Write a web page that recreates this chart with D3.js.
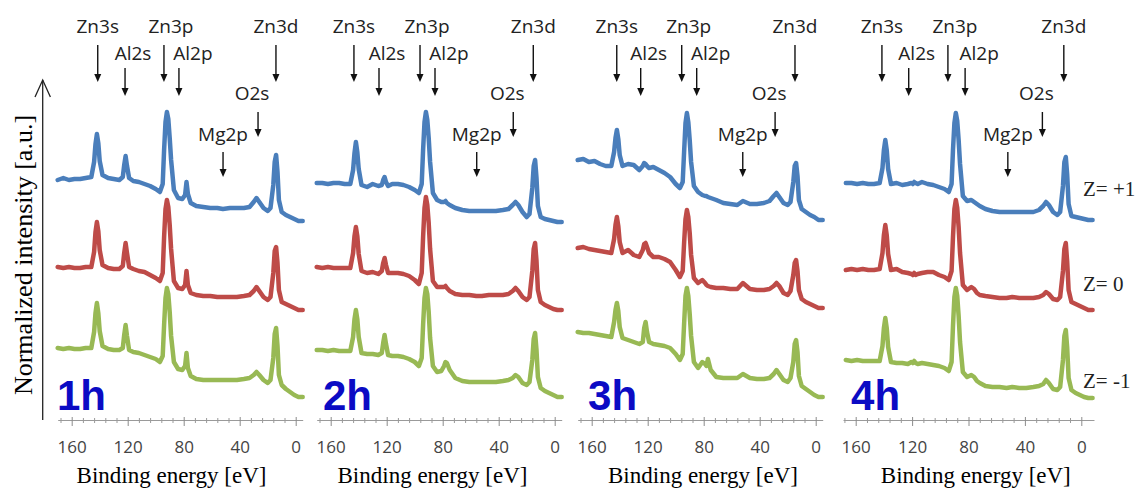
<!DOCTYPE html>
<html>
<head>
<meta charset="utf-8">
<script src="https://cdnjs.cloudflare.com/ajax/libs/d3/7.8.5/d3.min.js"></script>
<style>
  body { margin: 0; background: #fff; }
  svg { display: block; }
</style>
</head>
<body>
<svg id="chart" width="1142" height="494"></svg>
<script>
// Panels (deposition time) and stacked series (position Z)
var panels = ["1h", "2h", "3h", "4h"];
var zLabels = ["Z= +1", "Z= 0", "Z= -1"];
var majorTicks = [160, 120, 80, 40, 0];

// Binding energy grid [eV] (panel 4 sits ~3 eV lower)
var energy = [170, 166, 162, 158, 154, 150, 146, 144, 143, 142, 141, 140, 138, 134, 130, 126,
  123.5, 122.5, 121.5, 120.5, 119, 116, 112, 108, 104, 100, 97, 95, 94, 93, 92, 91, 90, 89,
  87, 84, 81, 79, 78, 77, 75, 71, 66, 61, 56, 52, 47, 42, 37, 33, 30, 28, 26, 23, 20, 18,
  16, 15, 14, 13, 12, 10, 7, 4, 1, -2, -5];
var energy4h = [167, 163, 159, 155, 151, 147, 143, 141, 140, 139, 138, 137, 135, 131, 127, 123,
  120.5, 119.5, 118.5, 117.5, 116, 113, 109, 105, 101, 97, 94, 92, 91, 90, 89, 88, 87, 86,
  84, 81, 78, 76, 75, 74, 72, 68, 63, 58, 53, 49, 44, 39, 34, 30, 27, 25, 23, 20, 17, 15,
  13, 12, 11, 10, 9, 7, 4, 1, -2, -5, -8];

// Normalized intensity [a.u.], Z=+1 / Z=0 / Z=-1 for each panel
var zPlus1_1h = [70,72,70,71,71,72,73, 88,106,116,107,89, 75,72,71,70, 73,85,94,84, 72,69,68,66,64,61,58,
  66,100,128,138,131,112,90, 60,52,51,55,68,56,47, 44,43,42,42,41,42,42,42,43, 48,52,48,42,39,42,
  65,88,95,78,50, 38,35,33,31,29,29];
var zZero_1h = [68,67,68,67,67,68,68, 83,103,113,104,85, 70,67,66,66, 69,82,92,82, 68,66,64,63,60,57,54,
  62,98,126,135,128,110,86, 54,47,46,50,64,50,42, 40,39,39,38,38,38,38,39,40, 44,48,44,38,35,38,
  62,84,88,72,45, 33,31,29,27,25,25];
var zMinus1_1h = [72,71,72,71,71,72,72, 88,107,117,107,89, 74,71,70,70, 72,85,95,84, 70,68,67,65,63,61,58,
  64,95,122,132,126,108,84, 58,51,50,54,67,52,44, 41,40,40,40,40,40,40,41,42, 45,48,45,40,37,40,
  62,86,92,74,45, 35,31,28,25,23,23];

var zPlus1_2h = [67,67,66,67,67,66,66, 80,97,108,98,81, 65,63,66,64, 65,70,73,68, 64,66,66,65,63,60,57,
  66,100,128,138,130,112,88, 57,50,48,48,49,47,45, 42,40,39,39,39,39,39,40,41, 45,48,45,38,33,36,
  62,84,90,72,44, 33,31,30,29,28,28];
var zZero_2h = [68,67,68,67,67,67,67, 82,99,108,99,81, 64,62,63,61, 64,72,77,70, 62,62,62,61,59,55,51,
  62,98,127,138,130,112,86, 54,48,48,48,49,47,44, 41,40,40,39,39,40,40,40,41, 44,47,44,38,35,38,
  64,86,92,74,45, 33,30,28,26,25,25];
var zMinus1_2h = [70,70,69,70,69,69,69, 83,101,110,101,83, 67,66,66,65, 67,77,85,76, 65,64,64,63,61,58,54,
  62,95,122,132,126,108,82, 54,48,49,54,58,57,50, 42,39,38,38,38,38,38,39,40, 42,45,43,37,35,38,
  60,81,87,70,43, 32,29,27,25,23,23];

var zPlus1_3h = [90,91,88,89,86,84,84, 98,112,120,111,95, 84,86,85,80, 84,87,86,84, 82,83,80,77,73,66,62,
  68,98,127,137,128,110,88, 64,58,55,54,54,53,52, 50,47,46,45,49,46,46,47,49, 54,57,53,47,45,48,
  68,84,87,74,50, 41,38,35,33,30,30];
var zZero_3h = [87,88,86,85,84,83,82, 96,110,118,109,93, 82,85,80,78, 85,91,92,88, 82,78,78,76,73,65,58,
  64,92,116,125,118,102,80, 57,52,55,52,50,49,48, 47,47,46,46,52,46,45,45,46, 49,52,49,42,40,44,
  60,72,75,64,45, 36,33,31,29,27,27];
var zMinus1_3h = [88,87,87,86,85,84,83, 98,110,117,109,93, 82,80,78,76, 78,92,98,88, 78,76,75,74,72,66,60,
  66,96,124,132,124,106,84, 58,52,58,56,54,61,50, 43,42,42,42,46,42,41,41,42, 46,50,46,40,38,42,
  58,76,80,68,44, 34,31,28,25,23,23];

var zPlus1_4h = [67,67,66,67,66,66,67, 82,100,110,100,81, 66,67,65,66, 67,66,68,67, 66,68,66,65,63,61,58,
  66,100,127,137,129,110,86, 54,49,50,48,47,46,44, 41,39,38,38,38,38,38,38,40, 44,48,45,38,35,38,
  64,88,93,75,46, 34,33,32,31,30,30];
var zZero_4h = [65,66,65,66,65,65,66, 82,100,110,100,81, 65,66,63,62, 61,60,62,60, 61,62,63,63,60,58,55,
  64,98,126,135,127,108,82, 50,45,48,46,44,42,40, 39,38,37,37,38,37,37,37,38, 40,43,41,36,35,38,
  64,86,92,73,45, 33,31,29,27,25,25];
var zMinus1_4h = [60,59,60,59,59,59,59, 74,92,102,92,73, 58,57,57,56, 58,57,59,57, 56,57,56,55,54,52,49,
  58,94,123,132,124,104,78, 48,43,45,43,41,39,37, 34,33,33,32,33,32,32,33,34, 36,40,37,31,30,33,
  60,84,90,72,42, 30,27,25,23,22,22];

// Peak markers and where their arrows point, per panel [eV]
var peakNames = ["Zn3s", "Al2s", "Zn3p", "Al2p", "O2s", "Mg2p", "Zn3d"];
var peakArrowEV = [
  [141.4, 121.9, 94.1, 83.4, 26.9, 51.9, 14.1],
  [143.4, 125.5, 96.2, 85.5, 29.6, 55.7, 15.3],
  [142.1, 125.0, 95.7, 85.0, 29.0, 52.1, 14.8],
  [141.4, 122.4, 94.6, 82.4, 27.6, 52.1, 12.4]
];

var spectra = [
  [energy, [zPlus1_1h, zZero_1h, zMinus1_1h]],
  [energy, [zPlus1_2h, zZero_2h, zMinus1_2h]],
  [energy, [zPlus1_3h, zZero_3h, zMinus1_3h]],
  [energy4h, [zPlus1_4h, zZero_4h, zMinus1_4h]]
];

// ---- layout ----
var svg = d3.select("#chart");
var axisY = 420;
var seriesColors = ["#4a7ebb", "#be4b48", "#98b954"];
var stackOffset = [170, 85, 0];
var tick160X = [71.7, 330.7, 591.7, 855.7];
var pxPerEV = [1.4, 1.4, 1.4, 1.41];
var xDomains = [[170, -5], [170, -5], [170, -5], [169, -9]];
var tagEV = [170.5, 165.5, 162.6, 163.3];
var titleEV = [88.7, 87.3, 80.5, 74.8];

// label tiers: text baseline, arrow start, arrow tip, text shift
var peakLayout = {
  "Zn3s": [33, 45, 82, 0],
  "Zn3p": [33, 45, 82, 7],
  "Zn3d": [33, 45, 82, 0],
  "Al2s": [60, 68, 96, 8],
  "Al2p": [60, 68, 96, 14],
  "O2s":  [100, 112, 137, -6],
  "Mg2p": [141, 152, 177, 0]
};

var y = d3.scaleLinear().domain([0, 340]).range([axisY, 80]);

panels.forEach(function (name, i) {
  var dom = xDomains[i];
  var x = d3.scaleLinear()
    .domain(dom)
    .range([tick160X[i] - (dom[0] - 160) * pxPerEV[i], tick160X[i] + (160 - dom[1]) * pxPerEV[i]]);

  var g = svg.append("g").attr("class", "panel-" + name);

  // minor ticks every 8 eV
  var minor = d3.range(0, dom[0], 8).filter(function (d) { return majorTicks.indexOf(d) < 0; });
  var minorAxis = g.append("g")
    .attr("transform", "translate(0," + axisY + ")")
    .call(d3.axisBottom(x).tickValues(minor).tickSize(3).tickSizeOuter(0).tickFormat(""));
  minorAxis.selectAll(".tick line").attr("y1", -2).attr("stroke", "#9a9a9a");
  minorAxis.select(".domain").attr("stroke", "#9a9a9a");

  var majorAxis = g.append("g")
    .attr("transform", "translate(0," + axisY + ")")
    .call(d3.axisBottom(x).tickValues(majorTicks).tickSize(6).tickSizeOuter(0));
  majorAxis.select(".domain").remove();
  majorAxis.selectAll(".tick line").attr("y1", -3).attr("stroke", "#8c8c8c");
  majorAxis.selectAll(".tick text")
    .attr("y", 33).attr("dy", 0)
    .attr("fill", "#444")
    .style("font-family", "'Open Sans', sans-serif")
    .style("font-size", "17px");

  // spectra
  var en = spectra[i][0];
  spectra[i][1].forEach(function (vals, s) {
    var line = d3.line()
      .x(function (d, k) { return x(en[k]); })
      .y(function (d) { return y(d + stackOffset[s]); });
    g.append("path")
      .datum(vals)
      .attr("d", line)
      .attr("fill", "none")
      .attr("stroke", seriesColors[s])
      .attr("stroke-width", 4.5)
      .attr("stroke-linejoin", "round")
      .attr("stroke-linecap", "round");
  });

  // peak labels with arrows
  peakNames.forEach(function (p, k) {
    var lay = peakLayout[p];
    var ax = x(peakArrowEV[i][k]);
    g.append("text")
      .attr("x", ax + lay[3])
      .attr("y", lay[0])
      .attr("text-anchor", "middle")
      .attr("fill", "#222")
      .style("font-family", "'Open Sans', sans-serif")
      .style("font-size", "19px")
      .text(p);
    g.append("line")
      .attr("x1", ax).attr("x2", ax)
      .attr("y1", lay[1]).attr("y2", lay[2] - 6)
      .attr("stroke", "#111")
      .attr("stroke-width", 1.4);
    g.append("path")
      .attr("d", "M" + (ax - 3.5) + "," + (lay[2] - 8) + "L" + (ax + 3.5) + "," + (lay[2] - 8) + "L" + ax + "," + lay[2] + "Z")
      .attr("fill", "#111");
  });

  // time tag
  g.append("text")
    .attr("x", x(tagEV[i]))
    .attr("y", 410)
    .attr("fill", "#0b0bc4")
    .style("font-family", "'Liberation Sans', Arial, sans-serif")
    .style("font-weight", "bold")
    .style("font-size", "42px")
    .text(name);

  // x title
  g.append("text")
    .attr("x", x(titleEV[i]))
    .attr("y", 483)
    .attr("text-anchor", "middle")
    .attr("fill", "#000")
    .style("font-family", "'Liberation Serif', 'Times New Roman', serif")
    .style("font-size", "23px")
    .text("Binding energy [eV]");
});

// y axis arrow and title
svg.append("line")
  .attr("x1", 42.7).attr("x2", 42.7)
  .attr("y1", 80).attr("y2", axisY)
  .attr("stroke", "#222").attr("stroke-width", 1.3);
svg.append("path")
  .attr("d", "M35,97L42.7,80L50.4,97")
  .attr("fill", "none").attr("stroke", "#222").attr("stroke-width", 1.3);
svg.append("text")
  .attr("transform", "translate(32,255)rotate(-90)")
  .attr("text-anchor", "middle")
  .attr("fill", "#000")
  .style("font-family", "'Liberation Serif', 'Times New Roman', serif")
  .style("font-size", "26px")
  .text("Normalized intensity [a.u.]");

// Z position labels
var zLabelY = [196, 291, 388];
zLabels.forEach(function (t, s) {
  svg.append("text")
    .attr("x", 1083)
    .attr("y", zLabelY[s])
    .attr("fill", "#222")
    .style("font-family", "'Liberation Serif', 'Times New Roman', serif")
    .style("font-size", "21px")
    .text(t);
});
</script>
</body>
</html>
